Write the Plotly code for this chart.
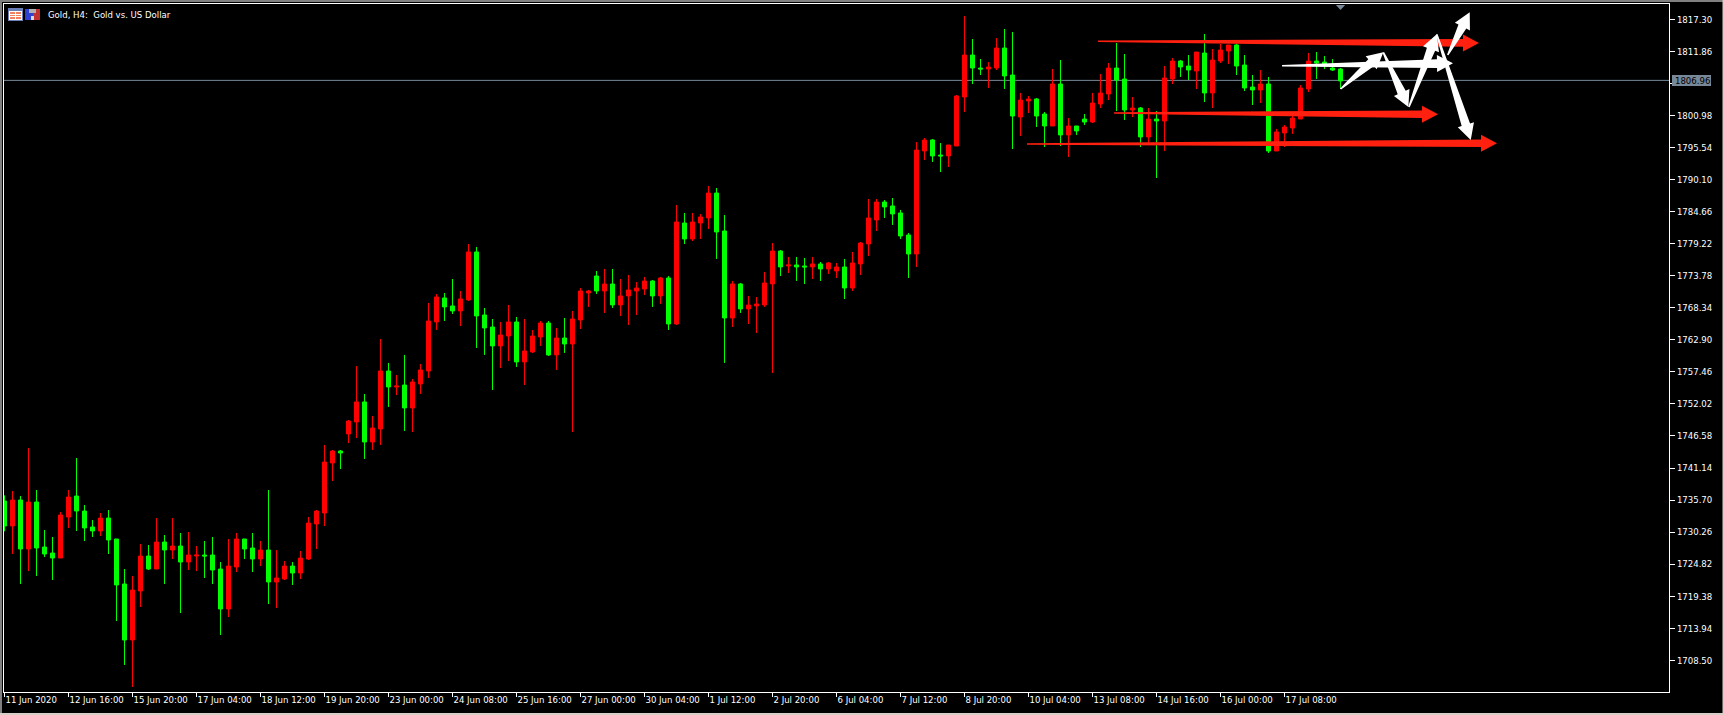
import plotly.graph_objects as go

W, H = 1724, 715
ML, MR, MT, MB = 4, 55, 4, 23
FONT = "DejaVu Sans Condensed, Liberation Sans, sans-serif"

opens = [1735.54,1731.30,1735.71,1727.39,1735.37,1727.73,1726.71,1725.86,1732.82,1736.39,1733.84,1731.13,1730.45,1732.65,1729.09,1721.45,1711.94,1720.26,1726.20,1723.99,
1728.58,1727.22,1727.90,1725.18,1726.20,1726.37,1726.37,1723.99,1717.20,1724.33,1729.09,1727.56,1725.69,1727.22,1721.79,1722.30,1724.50,1723.31,1725.69,1731.63,
1733.50,1741.99,1744.03,1746.92,1748.96,1752.36,1745.56,1747.77,1757.62,1754.90,1755.24,1751.34,1755.41,1757.62,1765.94,1770.02,1768.66,1767.81,1769.68,1777.83,
1767.13,1765.09,1761.87,1763.56,1765.94,1759.15,1760.85,1763.39,1765.77,1760.34,1763.22,1762.20,1766.28,1770.86,1773.75,1771.20,1772.39,1768.83,1770.36,1771.20,
1771.54,1772.90,1770.36,1773.41,1765.60,1782.75,1780.03,1782.75,1783.60,1787.84,1781.39,1766.62,1772.39,1768.15,1768.66,1768.82,1772.39,1777.99,1775.45,1775.62,
1775.45,1775.28,1775.79,1774.94,1774.60,1775.28,1771.71,1775.79,1779.18,1783.26,1786.31,1785.64,1784.45,1780.71,1777.48,1794.97,1796.84,1794.29,1794.13,1795.82,
1804.14,1811.27,1809.06,1808.89,1809.06,1812.46,1807.87,1800.74,1803.46,1803.80,1801.25,1799.22,1806.35,1797.69,1799.22,1800.40,1799.89,1802.95,1804.65,1809.06,
1807.20,1801.93,1802.27,1797.35,1800.40,1800.06,1807.20,1810.25,1809.40,1808.55,1811.61,1804.82,1810.25,1811.95,1812.97,1809.57,1805.84,1805.33,1806.35,1794.97,
1798.03,1798.88,1800.40,1805.50,1810.25,1810.08,1809.06,1808.89]

highs = [1736.50,1737.24,1736.39,1744.54,1737.41,1730.62,1729.43,1733.67,1737.41,1742.84,1734.86,1732.31,1733.50,1734.01,1729.09,1723.99,1722.81,1728.24,1728.07,1732.65,
1729.77,1732.65,1730.11,1730.28,1727.90,1728.75,1729.43,1725.18,1729.09,1730.11,1729.09,1730.11,1728.75,1737.41,1727.22,1725.35,1725.18,1727.05,1732.82,1734.01,
1745.05,1744.20,1744.20,1749.29,1758.47,1753.71,1749.98,1763.05,1758.98,1756.94,1760.34,1756.26,1758.81,1769.17,1770.69,1770.86,1773.24,1771.20,1779.18,1778.68,
1768.32,1766.45,1765.94,1768.83,1766.79,1766.45,1764.58,1766.11,1766.11,1764.92,1766.62,1767.81,1771.71,1771.37,1774.60,1774.94,1774.94,1773.24,1773.92,1772.73,
1773.58,1773.07,1773.58,1773.75,1785.80,1784.45,1784.45,1784.28,1789.03,1788.69,1784.11,1772.90,1772.56,1770.35,1770.18,1774.43,1779.35,1778.16,1776.98,1776.98,
1776.81,1776.98,1776.13,1776.13,1775.96,1776.64,1777.82,1779.52,1786.82,1786.82,1786.65,1786.99,1784.96,1781.05,1796.50,1797.18,1797.01,1796.33,1795.99,1804.48,
1817.89,1813.99,1810.59,1810.08,1814.16,1815.69,1815.18,1804.82,1804.31,1803.97,1801.59,1808.89,1810.42,1800.57,1799.22,1801.25,1804.82,1808.04,1809.91,1813.31,
1811.44,1804.14,1802.44,1802.27,1801.76,1809.40,1810.76,1810.42,1811.27,1811.78,1814.84,1812.29,1813.14,1812.97,1813.14,1811.27,1807.87,1808.72,1807.54,1798.71,
1799.38,1800.91,1806.18,1811.61,1811.78,1811.10,1810.59,1809.06]

lows = [1730.40,1726.54,1721.45,1723.65,1722.81,1726.03,1722.13,1725.86,1730.96,1730.45,1728.75,1729.43,1729.60,1726.54,1715.16,1707.69,1703.96,1717.54,1723.82,1723.99,
1721.45,1725.69,1716.52,1723.82,1723.65,1722.47,1721.45,1712.79,1715.84,1723.48,1725.69,1723.48,1724.50,1718.05,1717.37,1722.13,1721.28,1722.30,1725.52,1727.39,
1731.30,1738.94,1740.97,1745.39,1746.24,1742.68,1744.21,1745.05,1751.51,1753.54,1747.43,1747.26,1753.71,1756.43,1764.58,1766.11,1767.30,1765.26,1769.51,1761.53,
1760.34,1754.39,1758.13,1759.32,1758.30,1755.24,1760.68,1761.87,1760.17,1757.79,1760.68,1747.26,1764.75,1768.49,1770.69,1767.47,1768.32,1766.96,1765.43,1767.13,
1770.52,1768.49,1769.00,1764.58,1765.43,1779.18,1779.69,1780.03,1781.73,1776.64,1758.98,1765.09,1767.47,1765.60,1764.07,1768.49,1757.28,1773.75,1774.26,1772.90,
1772.39,1773.24,1772.90,1774.09,1773.41,1769.84,1771.20,1773.92,1777.15,1781.39,1783.60,1782.41,1780.03,1773.41,1775.28,1793.45,1793.11,1791.41,1792.26,1795.82,
1801.59,1806.35,1807.87,1805.67,1808.72,1805.50,1795.31,1797.52,1801.42,1799.05,1795.65,1799.22,1795.82,1793.95,1797.69,1799.38,1799.72,1802.27,1803.63,1801.76,
1800.23,1800.74,1795.65,1796.16,1790.39,1794.97,1806.35,1807.54,1807.03,1805.50,1803.29,1802.27,1809.91,1809.74,1807.87,1805.16,1802.78,1803.12,1794.63,1794.97,
1795.65,1797.86,1800.40,1804.99,1807.20,1808.89,1808.55,1805.50]

closes = [1731.30,1735.71,1727.39,1735.37,1727.56,1726.54,1725.86,1733.16,1736.22,1733.84,1730.96,1730.45,1732.65,1728.92,1721.28,1711.94,1720.43,1726.20,1723.99,1728.58,
1727.22,1727.90,1725.18,1726.37,1726.37,1726.20,1723.82,1717.20,1724.50,1729.09,1727.39,1725.69,1727.22,1721.79,1722.47,1724.50,1723.31,1725.86,1731.80,1733.84,
1742.16,1744.03,1743.69,1749.12,1752.36,1745.56,1747.94,1757.62,1754.90,1755.07,1751.34,1755.75,1757.79,1766.11,1770.19,1768.49,1767.81,1769.85,1777.83,1766.96,
1764.92,1761.87,1763.73,1765.94,1759.15,1761.02,1763.56,1765.77,1760.34,1763.22,1762.20,1766.45,1771.20,1771.20,1771.20,1772.39,1768.83,1770.36,1771.37,1771.71,
1772.90,1770.36,1773.41,1765.60,1782.92,1780.03,1782.92,1783.77,1787.84,1781.22,1766.62,1772.39,1768.15,1768.82,1768.99,1772.56,1777.99,1775.28,1775.62,1775.28,
1775.28,1775.79,1774.94,1775.96,1775.28,1771.71,1775.96,1779.35,1783.60,1786.31,1785.47,1784.28,1780.54,1777.48,1795.14,1796.84,1794.13,1794.13,1795.99,1804.31,
1811.27,1809.06,1808.89,1809.23,1812.46,1807.71,1800.91,1803.63,1803.80,1800.91,1799.22,1806.35,1797.69,1799.22,1798.37,1799.89,1803.12,1804.82,1809.06,1807.03,
1801.93,1802.27,1797.35,1800.40,1800.06,1807.37,1810.25,1809.23,1808.72,1811.78,1804.82,1810.42,1812.12,1812.97,1809.40,1805.67,1805.33,1806.35,1794.97,1798.20,
1799.05,1800.57,1805.67,1810.25,1809.91,1809.74,1808.72,1806.86]

bar_index = list(range(len(opens)))

x_tick_index = [0,8,16,24,32,40,48,56,64,72,80,88,96,104,112,120,128,136,144,152,160]
x_tick_labels = ["11 Jun 2020","12 Jun 16:00","15 Jun 20:00","17 Jun 04:00","18 Jun 12:00","19 Jun 20:00","23 Jun 00:00",
                 "24 Jun 08:00","25 Jun 16:00","27 Jun 00:00","30 Jun 04:00","1 Jul 12:00","2 Jul 20:00","6 Jul 04:00",
                 "7 Jul 12:00","8 Jul 20:00","10 Jul 04:00","13 Jul 08:00","14 Jul 16:00","16 Jul 00:00","17 Jul 08:00"]
y_ticks = [1817.30,1811.86,1806.42,1800.98,1795.54,1790.10,1784.66,1779.22,1773.78,1768.34,1762.90,
           1757.46,1752.02,1746.58,1741.14,1735.70,1730.26,1724.82,1719.38,1713.94,1708.50]
y_tick_labels = ["1817.30","1811.86","","1800.98","1795.54","1790.10","1784.66","1779.22","1773.78","1768.34","1762.90",
                 "1757.46","1752.02","1746.58","1741.14","1735.70","1730.26","1724.82","1719.38","1713.94","1708.50"]
current_price = 1806.96

# drawn arrow objects: tail bar, tail price, tip bar, tip price
red_arrows = [(136.69,1813.60,184.31,1813.31),
              (138.69,1801.42,179.19,1801.20),
              (127.81,1796.16,186.56,1796.28)]
white_arrows = [(159.69,1809.45,181.06,1809.86),
                (167.00,1805.50,172.35,1811.73),
                (172.35,1811.73,175.48,1802.44),
                (175.55,1802.44,179.03,1814.79),
                (179.03,1814.79,183.28,1796.84),
                (180.40,1811.27,183.15,1818.52)]

x_range = [-0.0625, 208.06]
y_range = [1703.11, 1819.93]
PW, PH = W - ML - MR, H - MT - MB
sx = PW / (x_range[1] - x_range[0])
sy = PH / (y_range[1] - y_range[0])

def px(x): return (x - ML) / PW
def py(y): return 1 - (y - MT) / PH

def arrow_polygon(x0, p0, x1, p1, tail=0.8, neck=3.8, barb=8.5, head=16):
    ax, ay = x0 * sx, -p0 * sy
    bx, by = x1 * sx, -p1 * sy
    L = ((bx-ax)**2 + (by-ay)**2) ** 0.5
    ux, uy = (bx-ax)/L, (by-ay)/L
    nx, ny = -uy, ux
    nkx, nky = bx - ux*head, by - uy*head
    pts = [(ax+nx*tail, ay+ny*tail), (nkx+nx*neck, nky+ny*neck), (nkx+nx*barb, nky+ny*barb), (bx, by),
           (nkx-nx*barb, nky-ny*barb), (nkx-nx*neck, nky-ny*neck), (ax-nx*tail, ay-ny*tail), (ax+nx*tail, ay+ny*tail)]
    return [p[0]/sx for p in pts], [-p[1]/sy for p in pts]

fig = go.Figure()
fig.add_trace(go.Candlestick(
    x=bar_index, open=opens, high=highs, low=lows, close=closes,
    increasing=dict(line=dict(color="#ff0000", width=1), fillcolor="#ff0000"),
    decreasing=dict(line=dict(color="#00ff00", width=1), fillcolor="#00ff00"),
    whiskerwidth=0, hoverinfo="skip", showlegend=False))

for arrows, color, neck in ((red_arrows, "#ff2010", 3.8), (white_arrows, "#ffffff", 4.4)):
    for a in arrows:
        xs, ys = arrow_polygon(*a, neck=neck)
        fig.add_trace(go.Scatter(x=xs, y=ys, mode="lines", fill="toself", fillcolor=color,
                                 line=dict(width=0, color=color), hoverinfo="skip", showlegend=False))

def rect(x0, y0, x1, y1, color, layer="above"):
    return dict(type="rect", xref="paper", yref="paper", x0=px(x0), x1=px(x1), y0=py(y0), y1=py(y1),
                fillcolor=color, line=dict(width=0), layer=layer)

shapes = [
    dict(type="line", xref="paper", yref="y", x0=0, x1=1, y0=current_price, y1=current_price,
         line=dict(color="#778899", width=1), layer="below"),
    dict(type="path", xref="x", yref="paper",
         path=f"M 166.42,{py(5)} L 167.58,{py(5)} L 167,{py(10)} Z", fillcolor="#778899", line=dict(width=0)),
    rect(1672, 75, 1711, 86, "#778899"),
    # window edges
    rect(0, 0, W, 2, "#808080"), rect(0, 0, 2, H, "#808080"),
    rect(0, 713, W, H, "#d4d0c8"), rect(1722.5, 0, W, H, "#d4d0c8"),
    # header icons
    rect(8, 8, 23, 21, "#6a7fb5"), rect(9, 11, 22, 20, "#ffffff"),
    rect(10, 12, 15, 14, "#f08060"), rect(16, 12, 21, 14, "#f08060"),
    rect(10, 15, 15, 16, "#f08060"), rect(16, 15, 21, 16, "#f08060"),
    rect(10, 17, 15, 19, "#f08060"), rect(16, 17, 21, 19, "#f08060"),
    rect(25, 9, 33, 20, "#3040d0"), rect(33, 9, 40, 20, "#c03030"),
    rect(29, 9, 36, 13, "#b0b0b0"), rect(31, 16, 34, 20, "#d8d8e0"),
]

annotations = [
    dict(text="Gold, H4:\u00a0\u00a0Gold vs. US Dollar", xref="paper", yref="paper", x=px(45.5), y=py(14.5),
         xanchor="left", yanchor="middle", showarrow=False, font=dict(family=FONT, size=9.5, color="#ffffff")),
    dict(text="1806.96", xref="paper", yref="paper", x=px(1673.2), y=py(80.5),
         xanchor="left", yanchor="middle", showarrow=False, font=dict(family=FONT, size=9.5, color="#000000")),
]

fig.update_layout(
    width=W, height=H, margin=dict(l=ML, r=MR, t=MT, b=MB, pad=0),
    paper_bgcolor="#000000", plot_bgcolor="#000000", boxgap=0.5, boxgroupgap=0, showlegend=False,
    shapes=shapes, annotations=annotations,
    xaxis=dict(range=x_range, rangeslider=dict(visible=False), tickmode="array", tickvals=x_tick_index,
               ticktext=x_tick_labels, ticks="outside", ticklen=4, tickwidth=1, tickcolor="#ffffff",
               ticklabelposition="outside right", tickangle=0, ticklabelstandoff=-1,
               tickfont=dict(family=FONT, size=9.5, color="#ffffff"), showgrid=False, zeroline=False,
               showline=True, linecolor="#ffffff", linewidth=1, mirror=True),
    yaxis=dict(range=y_range, side="right", tickmode="array", tickvals=y_ticks,
               ticktext=y_tick_labels, ticks="outside", ticklen=5, tickwidth=1, tickcolor="#ffffff",
               tickfont=dict(family=FONT, size=9.5, color="#ffffff"), showgrid=False, zeroline=False,
               showline=True, linecolor="#ffffff", linewidth=1, mirror=True),
)

fig.write_html("out.html", config={"displayModeBar": False},
               post_script="document.body.style.margin='0';document.body.style.overflow='hidden';document.documentElement.style.background='#000';")
